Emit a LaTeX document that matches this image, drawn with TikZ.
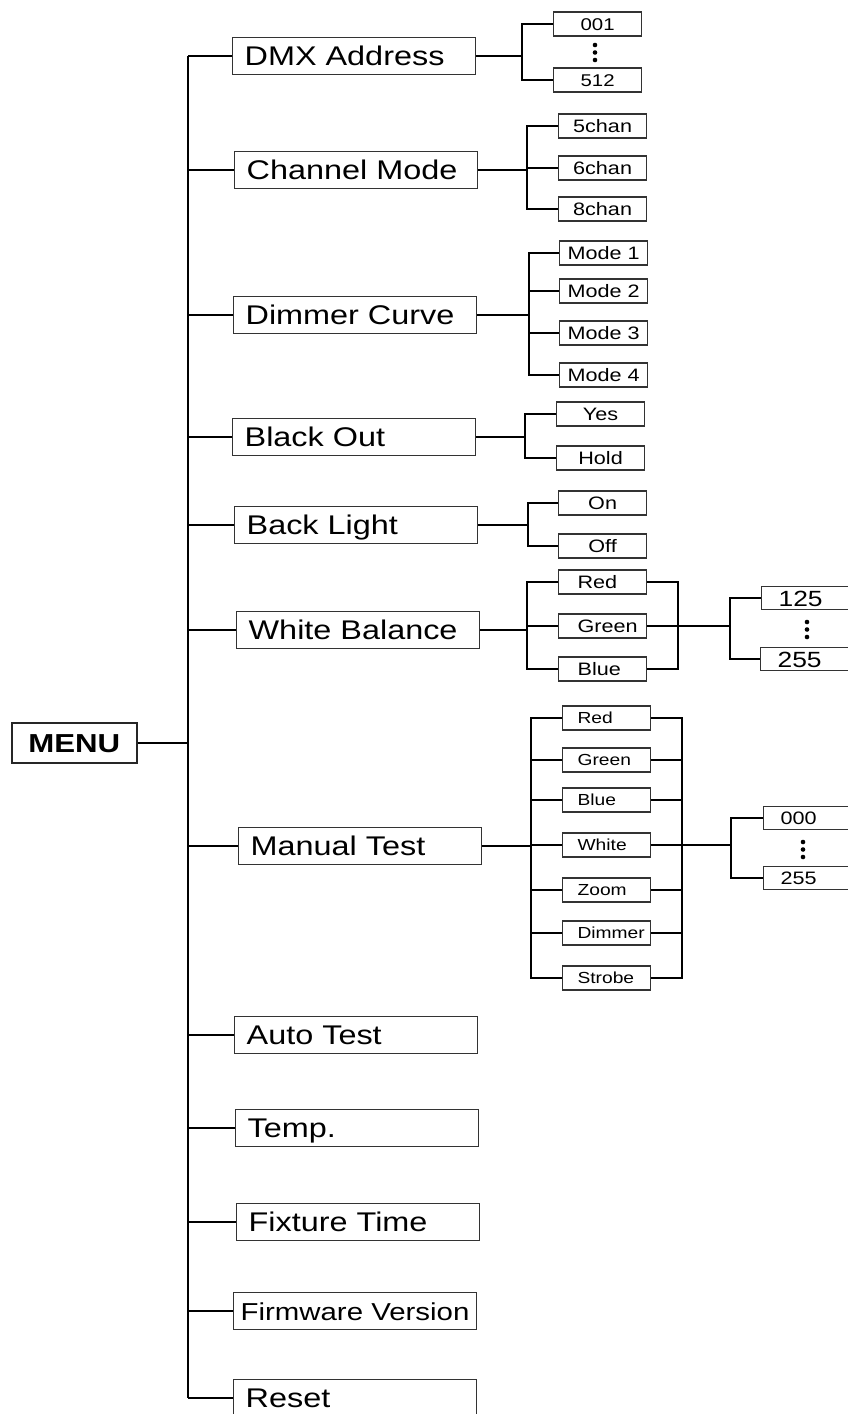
\documentclass[tikz,border=0pt]{standalone}
\usepackage{fontspec}
\setmainfont[FakeStretch=1.2]{Liberation Sans}
\usetikzlibrary{positioning}

\tikzset{
  item/.style={draw=black!80, line width=1.3pt, anchor=west, inner xsep=12pt, inner ysep=0pt,
    text width=219pt, align=left, minimum height=37pt, font=\fontsize{27}{30}\selectfont,
    text height=24pt, text depth=5pt},
  opt/.style={draw=black!80, line width=1.2pt, anchor=west, inner sep=0pt, minimum width=88pt,
    minimum height=24pt, font=\fontsize{18}{20}\selectfont, text height=16pt, text depth=3pt},
  optl/.style={opt, inner xsep=15pt, text width=58pt, align=left, font=\fontsize{16}{18}\selectfont,
    text height=14pt, text depth=2.5pt},
  val/.style={opt, inner xsep=17pt, text width=56pt, align=left, minimum height=23pt},
  wire/.style={line width=1.8pt}
}

\begin{document}
\begin{tikzpicture}[x=1pt, y=-1pt, on grid, node distance=42pt]
  \useasboundingbox (0,0) rectangle (848,1414);

  % menu and main items
  \node[draw=black!85, line width=1.6pt, anchor=west, minimum width=125pt, minimum height=40pt,
    inner sep=0pt, font=\fontsize{26}{28}\selectfont\bfseries, text height=20pt, text depth=1pt]
    (menu) at (11,743) {MENU};
  \node[item] (dmx) at (232,56) {DMX Address};
  \node[item] (chan) at (234,170) {Channel Mode};
  \node[item] (dim) at (233,315) {Dimmer Curve};
  \node[item] (blk) at (232,437) {Black Out};
  \node[item] (bkl) at (234,525) {Back Light};
  \node[item] (wb) at (236,630) {White Balance};
  \node[item] (mt) at (238,846) {Manual Test};
  \node[item] (auto) at (234,1035) {Auto Test};
  \node[item] (temp) at (235,1128) {Temp.};
  \node[item] (fix) at (236,1222) {Fixture Time};
  \node[item, font=\fontsize{24.5}{28}\selectfont, inner xsep=7pt, text width=229pt] (fw) at (233,1311) {Firmware\ Version};
  \node[item] (rst) at (233,1398) {Reset};

  % options
  \node[opt, font=\fontsize{17}{19}\selectfont] (d001) at (553,24) {001};
  \node[opt, font=\fontsize{17}{19}\selectfont] (d512) [below=56pt of d001] {512};
  \node[opt] (c5) at (558,126) {5chan};
  \node[opt] (c6) [below=of c5] {6chan};
  \node[opt] (c8) [below=41pt of c6] {8chan};
  \node[opt] (m1) at (559,253) {Mode 1};
  \node[opt] (m2) [below=38pt of m1] {Mode 2};
  \node[opt] (m3) [below=of m2] {Mode 3};
  \node[opt] (m4) [below=of m3] {Mode 4};
  \node[opt] (yes) at (556,414) {Yes};
  \node[opt] (hold) [below=44pt of yes] {Hold};
  \node[opt] (on) at (558,503) {On};
  \node[opt] (off) [below=43pt of on] {Off};

  \begin{scope}[opt/.append style={inner xsep=19pt, text width=50pt, align=left}]
  \node[opt] (wr) at (558,582) {Red};
  \node[opt] (wg) [below=44pt of wr] {Green};
  \node[opt] (wbl) [below=43pt of wg] {Blue};
  \end{scope}
  \node[val, font=\fontsize{22}{24}\selectfont, text height=18pt, text depth=2pt] (w125) at (761,598) {125};
  \node[val, font=\fontsize{22}{24}\selectfont, text height=18pt, text depth=2pt] (w255) at (760,659) {255};

  \node[optl] (mr) at (562,718) {Red};
  \node[optl] (mg) [below=of mr] {Green};
  \node[optl] (mb) [below=40pt of mg] {Blue};
  \node[optl] (mw) [below=45pt of mb] {White};
  \node[optl] (mz) [below=45pt of mw] {Zoom};
  \node[optl] (md) [below=43pt of mz] {Dimmer};
  \node[optl] (ms) [below=45pt of md] {Strobe};
  \node[val] (v000) at (763,818) {000};
  \node[val] (v255) at (763,878) {255};

  % joints
  \coordinate (spine) at (188,0);
  \coordinate (dmxj) at (522,56);
  \coordinate (chanj) at (527,170);
  \coordinate (dimj) at (529,315);
  \coordinate (blkj) at (525,437);
  \coordinate (bklj) at (528,525);
  \coordinate (wbj) at (527,630);
  \coordinate (wbr) at (678,626);
  \coordinate (wbv) at (730,626);
  \coordinate (mtj) at (531,846);
  \coordinate (mtr) at (682,845);
  \coordinate (mtv) at (731,845);

  % spine
  \draw[wire] (spine |- dmx) -- (spine |- rst);
  \draw[wire] (menu) -- (spine |- menu);
  \foreach \n in {dmx,chan,dim,blk,bkl,wb,mt,auto,temp,fix,fw,rst}
    \draw[wire] (spine |- \n) -- (\n);

  % branches
  \draw[wire] (dmx) -- (dmxj) (d001) -| (dmxj) |- (d512);
  \draw[wire] (chan) -- (chanj) (c5) -| (chanj) |- (c8) (chanj |- c6) -- (c6);
  \draw[wire] (dim) -- (dimj) (m1) -| (dimj) |- (m4) (dimj |- m2) -- (m2) (dimj |- m3) -- (m3);
  \draw[wire] (blk) -- (blkj) (yes) -| (blkj) |- (hold);
  \draw[wire] (bkl) -- (bklj) (on) -| (bklj) |- (off);

  \draw[wire] (wb) -- (wbj |- wb) (wr) -| (wbj |- wb) |- (wbl) (wbj |- wg) -- (wg);
  \draw[wire] (wr.east) -| (wbr) |- (wbl.east);
  \draw[wire, line width=2.6pt] (wg.east) -- (wbv);
  \draw[wire] (w125) -| (wbv) |- (w255);

  \draw[wire] (mt) -- (mtj) (mr) -| (mtj) |- (ms);
  \foreach \n in {mg,mb,mw,mz,md}
    \draw[wire] (mtj |- \n) -- (\n);
  \draw[wire] (mr.east) -| (mtr) |- (ms.east);
  \foreach \n in {mg,mb,mz,md}
    \draw[wire] (\n.east) -- (mtr |- \n);
  \draw[wire] (mw.east) -- (mtv);
  \draw[wire] (v000) -| (mtv) |- (v255);

  % continuation dots
  \foreach \x/\y in {595/45, 807/622, 803/842}
    \foreach \k in {0,1,2}
      \fill (\x,\y+7.5*\k) circle (2.3pt);
\end{tikzpicture}
\end{document}
